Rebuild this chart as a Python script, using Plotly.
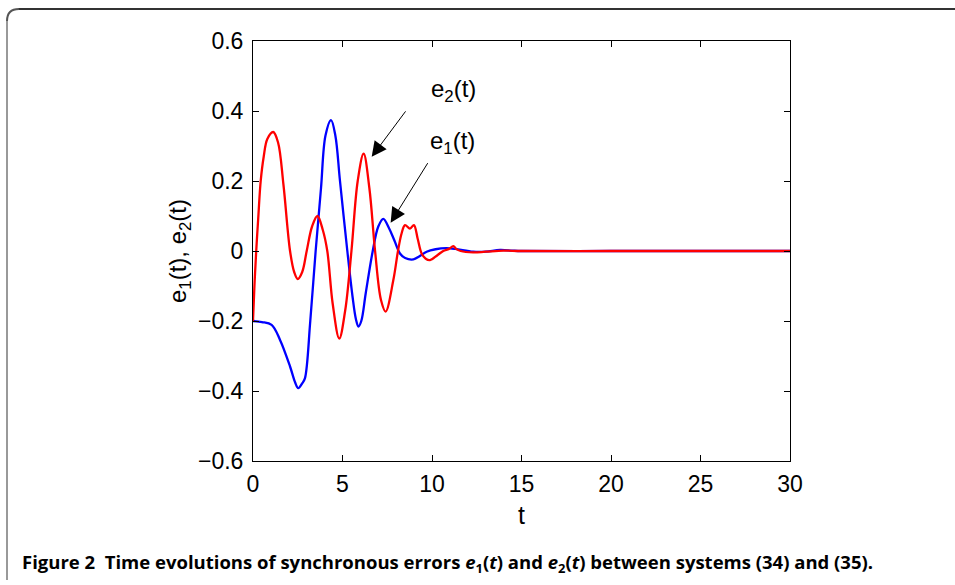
import plotly.graph_objects as go

# ---- data ----
t_e1 = [0, 0.5, 1.04, 1.51, 2.07, 2.35, 2.53, 2.75, 2.9, 3.2, 3.5, 3.8, 4.05, 4.36,
        4.6, 4.86, 5.27, 5.56, 5.75, 5.89, 6.05, 6.3, 6.69, 7.0, 7.28, 7.6, 7.9, 8.21,
        8.5, 8.96, 9.3, 9.7, 10.2, 10.8, 11.3, 12.3, 13.0, 13.8, 14.5, 15.0, 20.0, 25.0, 30.0]
e1 = [-0.2, -0.203, -0.211, -0.254, -0.33, -0.375, -0.392, -0.378, -0.364, -0.2, 0.0,
      0.18, 0.33, 0.374, 0.33, 0.2, 0.0, -0.13, -0.195, -0.216, -0.2, -0.12, 0.0, 0.07,
      0.092, 0.065, 0.03, -0.007, -0.02, -0.024, -0.015, -0.002, 0.005, 0.008, 0.006,
      -0.002, -0.002, 0.003, 0.001, 0.0, 0.0, 0.0, 0.0]

t_e2 = [0, 0.08, 0.18, 0.3, 0.43, 0.6, 0.8, 1.13, 1.4, 1.7, 2.07, 2.3, 2.5, 2.75, 3.0,
        3.3, 3.6, 3.9, 4.15, 4.45, 4.82, 5.15, 5.5, 5.85, 6.18, 6.5, 6.82, 7.15, 7.41,
        7.84, 8.1, 8.3, 8.49, 8.77, 8.99, 9.2, 9.42, 9.65, 9.89, 10.3, 10.63, 10.95,
        11.19, 11.35, 11.6, 12.3, 13.0, 14.0, 15.0, 20.0, 25.0, 30.0]
e2 = [-0.2, -0.1, 0.0, 0.1, 0.2, 0.27, 0.32, 0.34, 0.31, 0.19, 0.0, -0.06, -0.08,
      -0.06, 0.0, 0.07, 0.10, 0.06, 0.0, -0.15, -0.25, -0.17, 0.0, 0.2, 0.278, 0.18,
      0.0, -0.14, -0.173, -0.083, 0.0, 0.05, 0.074, 0.064, 0.074, 0.035, -0.007,
      -0.022, -0.026, -0.012, 0.0, 0.006, 0.014, 0.006, 0.0, -0.004, -0.002, 0.001,
      0.0, 0.0, 0.0, 0.0]

x_ticks = [0, 5, 10, 15, 20, 25, 30]
y_ticks = [-0.6, -0.4, -0.2, 0, 0.2, 0.4, 0.6]
y_tick_text = ["\u22120.6", "\u22120.4", "\u22120.2", "0", "0.2", "0.4", "0.6"]

caption = ("Figure 2  Time evolutions of synchronous errors <i>e</i><sub>1</sub>(<i>t</i>) "
           "and <i>e</i><sub>2</sub>(<i>t</i>) between systems (34) and (35).")

# ---- layout geometry (pixels) ----
W, H = 955, 585
L, R, T, B = 253, 165, 41, 124
PW, PH = W - L - R, H - T - B


def px(x):
    return (x - L) / PW


def py(y):
    return (H - B - y) / PH


FONT = "Liberation Sans, Arial, Helvetica, sans-serif"

fig = go.Figure()
fig.add_trace(go.Scatter(x=t_e1, y=e1, mode="lines", name="e1",
                         line=dict(color="#0000ff", width=2.3, shape="spline", smoothing=1.0)))
fig.add_trace(go.Scatter(x=t_e2, y=e2, mode="lines", name="e2",
                         line=dict(color="#ff0000", width=2.3, shape="spline", smoothing=1.0)))

axis_common = dict(showline=True, linecolor="black", linewidth=1, mirror="ticks",
                   ticks="inside", ticklen=6, tickwidth=1, tickcolor="black",
                   showgrid=False, zeroline=False,
                   tickfont=dict(family=FONT, size=23, color="black"))

fig.update_xaxes(range=[0, 30], tickvals=x_ticks, ticklabelstandoff=2, **axis_common,
                 title=dict(text="t", font=dict(family=FONT, size=25, color="black"), standoff=10))
fig.update_yaxes(range=[-0.6, 0.6], tickvals=y_ticks, ticktext=y_tick_text,
                 ticklabelstandoff=4, **axis_common,
                 title=dict(text="e<sub>1</sub>(t), e<sub>2</sub>(t)",
                            font=dict(family=FONT, size=24, color="black"), standoff=4))

annotations = [
    # arrows
    dict(x=6.63, y=0.269, xref="x", yref="y", ax=35, ay=-47, showarrow=True,
         arrowhead=2, arrowsize=3, arrowwidth=1, arrowcolor="black", text=""),
    dict(x=7.69, y=0.081, xref="x", yref="y", ax=38, ay=-61, showarrow=True,
         arrowhead=2, arrowsize=3, arrowwidth=1, arrowcolor="black", text=""),
    # labels
    dict(x=px(429), y=py(73), xref="paper", yref="paper", showarrow=False,
         text="e<sub>2</sub>(t)", font=dict(family=FONT, size=24, color="black")),
    dict(x=px(452), y=py(125), xref="paper", yref="paper", showarrow=False,
         text="e<sub>1</sub>(t)", font=dict(family=FONT, size=24, color="black")),
    # caption
    dict(x=px(20), y=py(563), xref="paper", yref="paper", xanchor="left", yanchor="middle",
         showarrow=False, text="<b>" + caption + "</b>",
         font=dict(family="Open Sans, Noto Sans, sans-serif", size=18.5, color="black")),
]

shapes = [
    # top border (dark)
    dict(type="line", xref="paper", yref="paper", x0=px(18), y0=py(9), x1=px(960), y1=py(9),
         line=dict(color="#333333", width=2)),
    # rounded corner
    dict(type="path", xref="paper", yref="paper",
         path=f"M {px(7)} {py(21)} Q {px(7)} {py(9)} {px(19)} {py(9)}",
         line=dict(color="#555555", width=2)),
    # left border (grey)
    dict(type="line", xref="paper", yref="paper", x0=px(7), y0=py(21), x1=px(7), y1=py(580),
         line=dict(color="#999999", width=2)),
]

fig.update_layout(width=W, height=H, margin=dict(l=L, r=R, t=T, b=B, pad=0),
                  paper_bgcolor="white", plot_bgcolor="white", showlegend=False,
                  annotations=annotations, shapes=shapes)

fig.write_html("out.html", config={"displayModeBar": False},
               post_script="document.body.style.margin='0';")
